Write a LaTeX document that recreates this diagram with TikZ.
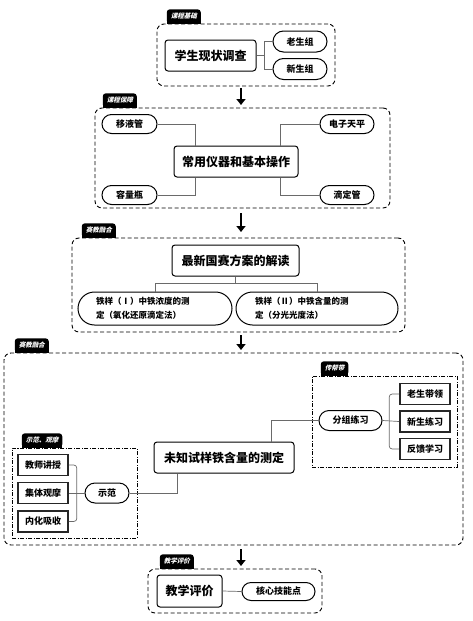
\documentclass[tikz,border=0pt]{standalone}
\usepackage{fontspec}
\setmainfont{Noto Sans CJK SC}
\newfontfamily\tagfont[FakeSlant=0.25]{Noto Sans CJK SC}
\usetikzlibrary{arrows.meta,shapes.misc}
\definecolor{linkgray}{HTML}{6A6A6A}

\tikzset{
  frame/.style={draw=black,line width=0.9pt,dash pattern=on 4pt off 2.5pt,rounded corners=7pt},
  subframe/.style={draw=black,line width=0.9pt,dash pattern=on 4pt off 1.5pt on 1pt off 1.5pt},
  tag/.style={fill=black,text=white,rounded corners=3pt,minimum height=14pt,inner xsep=4pt,inner ysep=0pt,
    font=\tagfont\bfseries\fontsize{6.5}{7}\selectfont},
  mainbox/.style={draw=black,line width=1pt,rounded corners=3pt,inner sep=0pt,font=\bfseries\fontsize{12}{14}\selectfont},
  pill/.style={draw=black,line width=1pt,rounded rectangle,inner sep=0pt,font=\bfseries\fontsize{9}{11}\selectfont},
  widepill/.style={pill,minimum height=33pt,align=left,font=\bfseries\fontsize{8.5}{14}\selectfont},
  sqbox/.style={draw=black!85,line width=1.6pt,inner sep=0pt,minimum width=50pt,minimum height=21pt,font=\bfseries\fontsize{9}{11}\selectfont},
  link/.style={draw=linkgray,line width=0.7pt},
  bigarrow/.style={line width=2.6pt,-{Triangle[width=9pt,length=6pt]}}
}

\begin{document}
\begin{tikzpicture}[x=1pt,y=-1pt]
\useasboundingbox (0,0) rectangle (473,621);

% 课程基础
\node[frame,minimum width=178pt,minimum height=62pt] (f1) at (246,55) {};
\node[tag,anchor=south west] (t1) at ([xshift=10pt]f1.north west) {课程基础};
\node[mainbox,minimum width=91pt,minimum height=31pt] (survey) at (210.5,55.5) {学生现状调查};
\node[pill,minimum width=54pt,minimum height=21pt] (old) at (300,41.5) {老生组};
\node[pill,minimum width=54pt,minimum height=21pt] (new) at (300,69) {新生组};
\draw[link] (survey.east) -- ++(8,0) coordinate (b1) |- (old.west);
\draw[link] (b1) |- (new.west);

\coordinate (a1s) at (241,88); \coordinate (a1e) at (241,105);
\draw[bigarrow] (a1s) -- (a1e);

% 课程保障
\node[frame,minimum width=295pt,minimum height=100pt] (f2) at (242.5,158) {};
\node[tag,anchor=south west] (t2) at ([xshift=8pt]f2.north west) {课程保障};
\node[mainbox,minimum width=124pt,minimum height=31pt] (tools) at (236,161.5) {常用仪器和基本操作};
\node[pill,minimum width=55pt,minimum height=19pt] (pipette) at (129.5,124) {移液管};
\node[pill,minimum width=55pt,minimum height=19pt] (flask) at (129.5,195) {容量瓶};
\node[pill,minimum width=54pt,minimum height=19pt] (balance) at (347,124) {电子天平};
\node[pill,minimum width=54pt,minimum height=19pt] (burette) at (347,195) {滴定管};
\draw[link] (pipette.east) -| ([xshift=-41pt]tools.north);
\draw[link] (flask.east) -| ([xshift=-41pt]tools.south);
\draw[link] (balance.west) -| ([xshift=44pt]tools.north);
\draw[link] (burette.west) -| ([xshift=44pt]tools.south);

\coordinate (a2s) at (241,213); \coordinate (a2e) at (241,232);
\draw[bigarrow] (a2s) -- (a2e);

% 赛教融合
\node[frame,minimum width=333pt,minimum height=94pt] (f3) at (238.5,285) {};
\node[tag,anchor=south west] (t3) at ([xshift=10pt]f3.north west) {赛教融合};
\node[mainbox,minimum width=127pt,minimum height=31pt] (plan) at (235.5,260.5) {最新国赛方案的解读};
\node[widepill,minimum width=154pt,text width=118pt] (redox) at (155,308.5)
  {铁样（Ⅰ）中铁浓度的测\\定（氧化还原滴定法）};
\node[widepill,minimum width=162pt,text width=124pt] (photo) at (317,308.5)
  {铁样（Ⅱ）中铁含量的测\\定（分光光度法）};
\draw[link] (plan.south) -- ++(0,7) coordinate (b3);
\draw[link] (b3) -| (redox.north);
\draw[link] (b3) -| (photo.north);

\coordinate (a3s) at (241,335); \coordinate (a3e) at (241,350);
\draw[bigarrow] (a3s) -- (a3e);

% 赛教融合 (实践)
\node[frame,minimum width=459pt,minimum height=192pt] (f4) at (233.5,449) {};
\node[tag,anchor=south west] (t4) at ([xshift=11pt]f4.north west) {赛教融合};
\node[subframe,minimum width=145pt,minimum height=91pt] (f4b) at (384.5,421.5) {};
\node[tag,anchor=south west] (t4b) at ([xshift=9pt]f4b.north west) {传帮带};
\node[subframe,minimum width=125pt,minimum height=90pt] (f4a) at (74.5,493) {};
\node[tag,anchor=south west] (t4a) at ([xshift=10pt]f4a.north west) {示范、观摩};

\node[mainbox,minimum width=140pt,minimum height=31pt] (task) at (224,457.5) {未知试样铁含量的测定};
\node[pill,minimum width=63pt,minimum height=20pt] (group) at (350.5,420.5) {分组练习};
\node[sqbox] (lead) at (425,394) {老生带领};
\node[sqbox] (practice) at (425,421.5) {新生练习};
\node[sqbox] (feedback) at (425,449) {反馈学习};
\node[pill,minimum width=44pt,minimum height=20pt] (demo) at (107,493) {示范};
\node[sqbox] (lecture) at (43,465) {教师讲授};
\node[sqbox] (observe) at (43,493) {集体观摩};
\node[sqbox] (absorb) at (43,521.5) {内化吸收};

\draw[link] ([xshift=47pt]task.north) |- (group.west);
\draw[link] (group.east) -- (practice.west);
\draw[link,rounded corners=3pt] (lead.west) -| ([xshift=-10pt]practice.west) |- (feedback.west);
\draw[link] ([xshift=-47pt]task.south) |- (demo.east);
\draw[link] (demo.west) -- (observe.east);
\draw[link,rounded corners=3pt] (lecture.east) -| ([xshift=8pt]observe.east) |- (absorb.east);

\coordinate (a4s) at (241,549); \coordinate (a4e) at (241,566);
\draw[bigarrow] (a4s) -- (a4e);

% 教学评价
\node[frame,minimum width=174pt,minimum height=44pt] (f5) at (235,591) {};
\node[tag,anchor=south west] (t5) at ([xshift=12pt]f5.north west) {教学评价};
\node[mainbox,minimum width=65pt,minimum height=32pt] (eval) at (189.5,591) {教学评价};
\node[pill,minimum width=73pt,minimum height=18pt] (core) at (278.5,591.5) {核心技能点};
\draw[link] (eval.east) -- (core.west);

% square off the tag bottoms
\foreach \t in {t1,t2,t3,t4,t4a,t4b,t5}
  \fill (\t.south west) rectangle ([yshift=4pt]\t.south east);
\end{tikzpicture}
\end{document}
